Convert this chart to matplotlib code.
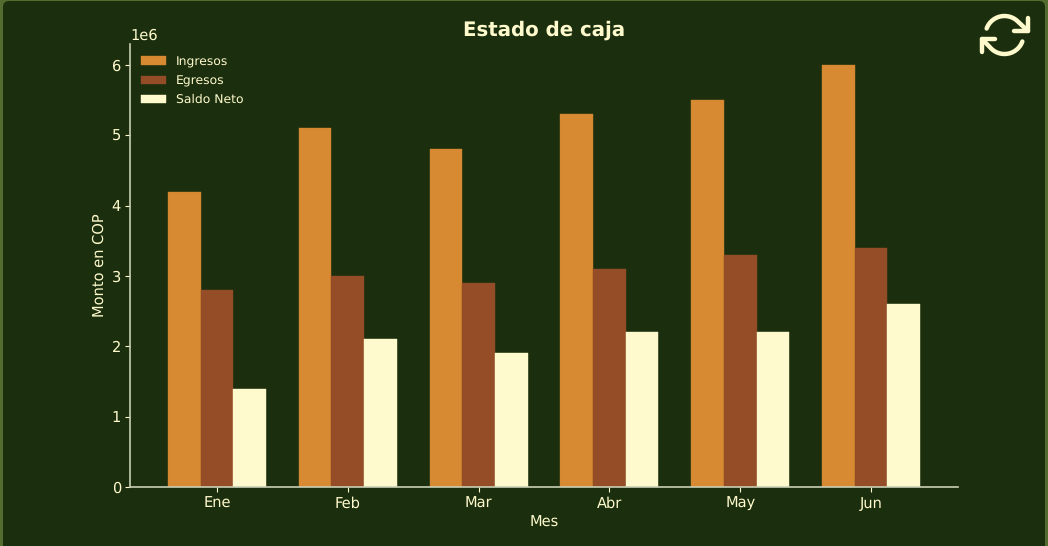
import numpy as np
import matplotlib
matplotlib.use("Agg")
import matplotlib.pyplot as plt
from matplotlib.patches import FancyBboxPatch

plt.rcParams["text.hinting"] = "no_hinting"

# data
meses = ["Ene", "Feb", "Mar", "Abr", "May", "Jun"]
ingresos = [4200000, 5100000, 4800000, 5300000, 5500000, 6000000]
egresos = [2800000, 3000000, 2900000, 3100000, 3300000, 3400000]
saldo_neto = [1400000, 2100000, 1900000, 2200000, 2200000, 2600000]

FONDO = "#1b2e0d"
BORDE = "#556b2f"
CREMA = "#fffacd"

W, H = 1048, 546
fig = plt.figure(figsize=(W / 100, H / 100), dpi=100, facecolor=BORDE)

# background panel with rounded corners, in pixels
bg = fig.add_axes([0, 0, 1, 1], zorder=0)
bg.set_xlim(0, W)
bg.set_ylim(H, 0)
bg.axis("off")
bg.add_patch(FancyBboxPatch((3, 1), W - 6, H + 20, boxstyle="round,pad=0,rounding_size=6",
                            fc=FONDO, ec="none"))

ax = fig.add_axes([130 / W, 1 - 487 / H, 828 / W, 443 / H], zorder=1)
ax.set_facecolor("none")

x = np.arange(len(meses))
ancho = 0.25
ax.bar(x - ancho, ingresos, ancho, color="#d88a32", edgecolor="#c98430", linewidth=0.3, label="Ingresos")
ax.bar(x, egresos, ancho, color="#944d27", edgecolor="#8f4b27", linewidth=0.3, label="Egresos")
ax.bar(x + ancho, saldo_neto, ancho, color=CREMA, edgecolor=CREMA, linewidth=0.3, label="Saldo Neto")

ax.set_xlim(-0.665, 5.665)
ax.set_ylim(0, 6300000)
ax.set_xticks(x, meses)
ax.set_xlabel("Mes", color=CREMA, fontsize=10.5, labelpad=3.3)
ax.set_ylabel("Monto en COP", color=CREMA, fontsize=10.5, labelpad=3.5)
ax.tick_params(colors=CREMA, labelsize=10.5, length=3.5, width=0.8)
ax.tick_params(axis="x", pad=3.5)
ax.tick_params(axis="y", pad=3)
ax.yaxis.get_offset_text().set_color(CREMA)
ax.yaxis.get_offset_text().set_fontsize(10.5)
for lado in ["top", "right"]:
    ax.spines[lado].set_visible(False)
for lado in ["left", "bottom"]:
    ax.spines[lado].set_color("#c8cfb4")
    ax.spines[lado].set_linewidth(1.2)

ax.legend(loc="upper left", frameon=False, fontsize=8.9, labelcolor=CREMA,
          bbox_to_anchor=(0, 0.998), borderaxespad=0.5, labelspacing=0.6)

fig.text(544 / W, 1 - 30 / H, "Estado de caja", color=CREMA, fontsize=14.2,
         fontweight="bold", ha="center", va="center")

# refresh icon, top right: two arcs, each running into the corner of its arrow head
cx, cy, r = 1004.5, 35, 19
estilo = dict(color=CREMA, lw=3.2, solid_capstyle="round", solid_joinstyle="round")
ang = np.radians(np.linspace(200, 315, 40))
bg.plot(np.r_[cx + r * np.cos(ang), 1028], np.r_[cy + r * np.sin(ang), 31], **estilo)
bg.plot([1028, 1028, 1014], [18, 31, 31], **estilo)
ang = np.radians(np.linspace(20, 135, 40))
bg.plot(np.r_[cx + r * np.cos(ang), 982], np.r_[cy + r * np.sin(ang), 39], **estilo)
bg.plot([982, 982, 995], [52, 39, 39], **estilo)

fig.savefig("out.png", dpi=100, facecolor=fig.get_facecolor())
